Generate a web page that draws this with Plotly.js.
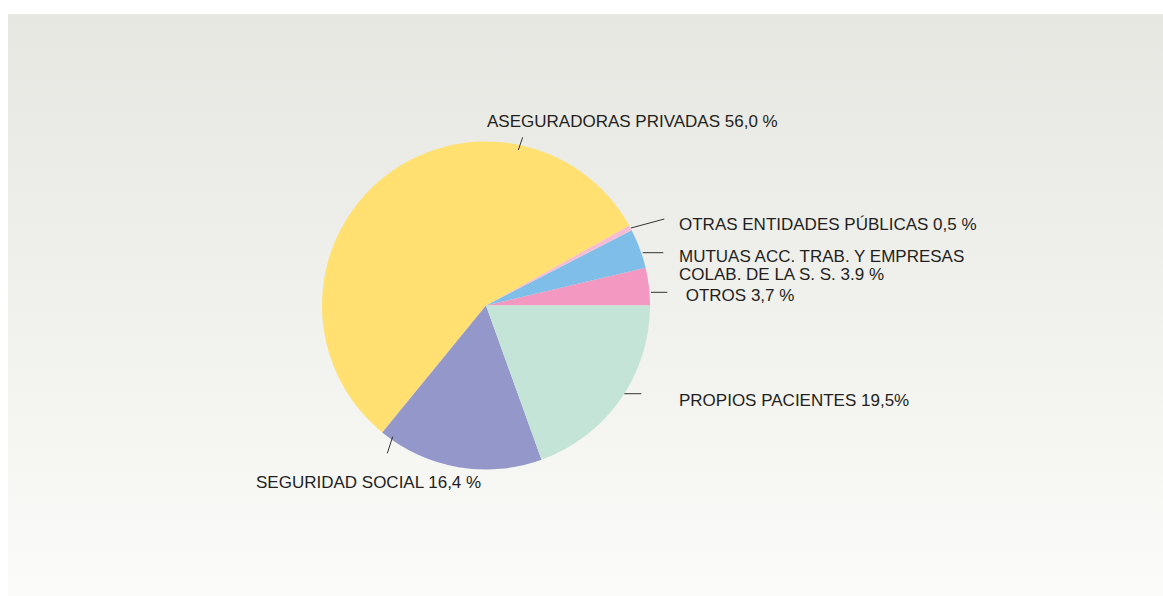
<!DOCTYPE html>
<html>
<head>
<meta charset="utf-8">
<script src="https://cdn.plot.ly/plotly-3.0.1.min.js"></script>
<style>
  html, body { margin: 0; padding: 0; background: #ffffff; }
  #bg { position: absolute; left: 8px; top: 14px; width: 1155px; height: 582px;
        background: linear-gradient(to bottom, #e7e7e2 0%, #f0f0ec 50%, #fbfbf9 100%); }
  #chart { position: absolute; left: 0; top: 0; width: 1163px; height: 596px; }
</style>
</head>
<body>
<div id="bg"></div>
<div id="chart"></div>
<script>
// Data (counter-clockwise from 3 o'clock)
const categories = [
  "OTROS",
  "MUTUAS ACC. TRAB. Y EMPRESAS COLAB. DE LA S. S.",
  "OTRAS ENTIDADES PÚBLICAS",
  "ASEGURADORAS PRIVADAS",
  "SEGURIDAD SOCIAL",
  "PROPIOS PACIENTES"
];
const shares = [3.7, 3.9, 0.5, 56.0, 16.4, 19.5];
const sliceColors = ["#f398c0", "#7fbee8", "#f6bcd4", "#ffe070", "#9497ca", "#c4e4d8"];

// Label texts as printed on the chart
const labelLines = [
  ["ASEGURADORAS PRIVADAS 56,0 %"],
  ["OTRAS ENTIDADES PÚBLICAS 0,5 %"],
  ["MUTUAS ACC. TRAB. Y EMPRESAS"],
  ["COLAB. DE LA S. S. 3.9 %"],
  [" OTROS 3,7 %"],
  ["PROPIOS PACIENTES 19,5%"],
  ["SEGURIDAD SOCIAL 16,4 %"]
];

const W = 1163, H = 596;
const px = x => x / W;
const py = y => 1 - y / H;

// pie placement (pixels)
const cx = 486, cy = 305.5, r = 164;

// label placement (pixels: left x, vertical centre)
const labelPos = [
  [485, 121.5],
  [677, 224.5],
  [677, 256],
  [677, 274],
  [679, 296],
  [677, 401],
  [254, 482]
];
// leader lines (pixels)
const leaders = [
  [518.3, 150, 522.7, 137.3],
  [631, 228, 664.3, 219],
  [642.7, 252.7, 663.3, 252.7],
  [651, 292.3, 667.3, 292.3],
  [624.3, 393.7, 641.3, 393.7],
  [392.7, 436.7, 387.3, 453.3]
];

const font = { family: "Liberation Sans, Arial, Helvetica, sans-serif", size: 17, color: "#231f20" };

// first slice must begin at 3 o'clock and run counter-clockwise
const firstSliceDeg = shares[0] / shares.reduce((a, b) => a + b, 0) * 360;

const trace = {
  type: "pie",
  labels: categories,
  values: shares,
  sort: false,
  direction: "counterclockwise",
  rotation: 90 - firstSliceDeg,
  marker: { colors: sliceColors, line: { width: 0 } },
  textinfo: "none",
  hoverinfo: "label+percent",
  showlegend: false,
  domain: { x: [px(cx - r), px(cx + r)], y: [py(cy + r), py(cy - r)] }
};

const annotations = labelLines.map((t, i) => ({
  xref: "paper", yref: "paper",
  x: px(labelPos[i][0]), y: py(labelPos[i][1]),
  xanchor: "left", yanchor: "middle",
  text: t[0], showarrow: false, font: font
}));

const shapes = leaders.map(l => ({
  type: "line", xref: "paper", yref: "paper",
  x0: px(l[0]), y0: py(l[1]), x1: px(l[2]), y1: py(l[3]),
  line: { color: "#333333", width: 1 }
}));

const layout = {
  width: W, height: H,
  margin: { l: 0, r: 0, t: 0, b: 0 },
  paper_bgcolor: "rgba(0,0,0,0)",
  plot_bgcolor: "rgba(0,0,0,0)",
  annotations: annotations,
  shapes: shapes,
  showlegend: false
};

Plotly.newPlot("chart", [trace], layout, { displayModeBar: false, staticPlot: true });
</script>
</body>
</html>
